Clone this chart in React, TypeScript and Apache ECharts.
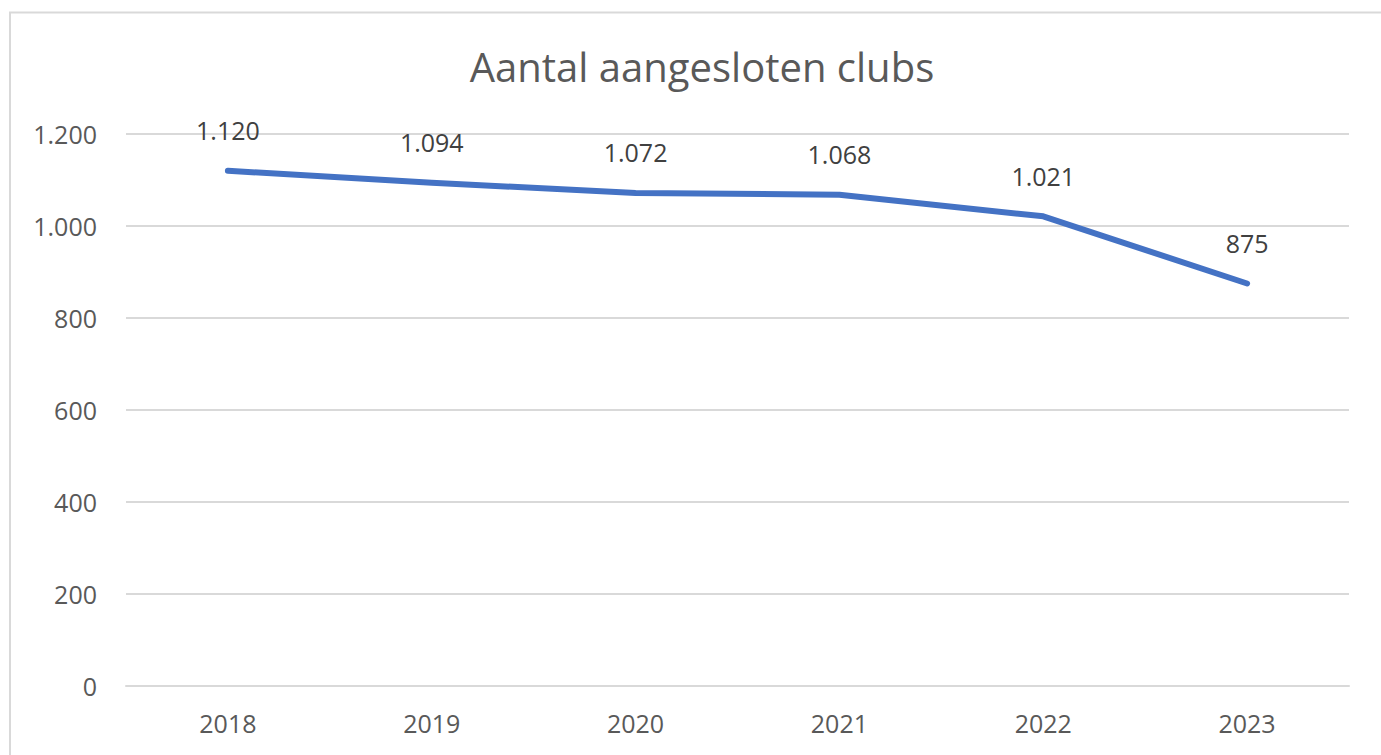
import React, { useEffect, useRef } from "react";
import * as echarts from "echarts";

const categories = ["2018", "2019", "2020", "2021", "2022", "2023"];
const clubs = [1120, 1094, 1072, 1068, 1021, 875];
const titleText = "Aantal aangesloten clubs";

const fmt = (v: number) => String(v).replace(/\B(?=(\d{3})+(?!\d))/g, ".");

export default function App() {
  const ref = useRef<HTMLDivElement>(null);
  useEffect(() => {
    document.body.style.margin = "0";
    const chart = echarts.init(ref.current!, null, { renderer: "svg" });
    const font = "'Open Sans', 'Noto Sans', sans-serif";
    chart.setOption({
      animation: false,
      backgroundColor: "#ffffff",
      title: {
        text: titleText,
        left: 697,
        textAlign: "center",
        top: 41,
        textStyle: { fontFamily: font, fontSize: 40, fontWeight: "normal", color: "#595959" },
      },
      graphic: [
        {
          type: "rect",
          shape: { x: 10, y: 12.5, width: 1400, height: 800 },
          style: { fill: "none", stroke: "#d9d9d9", lineWidth: 2 },
          silent: true,
        },
      ],
      grid: { left: 126, right: 32, top: 134, bottom: 69 },
      xAxis: {
        type: "category",
        data: categories,
        boundaryGap: true,
        axisLine: { show: true, lineStyle: { color: "#d9d9d9", width: 2 } },
        axisTick: { show: false },
        axisLabel: { fontFamily: font, fontSize: 25, color: "#595959", margin: 24 },
      },
      yAxis: {
        type: "value",
        min: 0,
        max: 1200,
        interval: 200,
        axisLine: { show: false },
        axisTick: { show: false },
        splitLine: { lineStyle: { color: "#d9d9d9", width: 2 } },
        axisLabel: {
          fontFamily: font,
          fontSize: 25,
          color: "#595959",
          margin: 29,
          formatter: (v: number) => fmt(v),
        },
      },
      series: [
        {
          type: "line",
          data: clubs,
          symbol: "circle",
          symbolSize: 2,
          showSymbol: true,
          itemStyle: { color: "#4472c4" },
          lineStyle: { color: "#4472c4", width: 6, cap: "round", join: "round" },
          label: {
            show: true,
            position: "top",
            distance: 27,
            fontFamily: font,
            fontSize: 25,
            color: "#404040",
            formatter: (p: any) => fmt(p.value),
          },
        },
      ],
    });
    return () => chart.dispose();
  }, []);
  return <div ref={ref} style={{ position: "fixed", left: 0, top: 0, width: 1381, height: 755 }} />;
}
